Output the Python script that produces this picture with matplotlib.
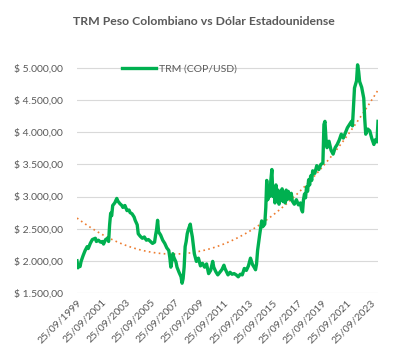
import matplotlib
matplotlib.use("Agg")
import matplotlib.pyplot as plt
import numpy as np
import pandas as pd

# TRM (COP per USD), one row per year
months = [
    "1999-09", "1999-10", "1999-11", "1999-12",
    "2000-01", "2000-03", "2000-05", "2000-07", "2000-08", "2000-10", "2000-12",
    "2001-03", "2001-04", "2001-06", "2001-08", "2001-10", "2001-11",
    "2002-01", "2002-03", "2002-04", "2002-05", "2002-06", "2002-07", "2002-08", "2002-10", "2002-12",
    "2003-01", "2003-03", "2003-05", "2003-06", "2003-08", "2003-10", "2003-12",
    "2004-01", "2004-03", "2004-05", "2004-06", "2004-08", "2004-09", "2004-11",
    "2005-01", "2005-03", "2005-05", "2005-07", "2005-09", "2005-11",
    "2006-01", "2006-02", "2006-03", "2006-04", "2006-05", "2006-07", "2006-09", "2006-11",
    "2007-01", "2007-03", "2007-04", "2007-05", "2007-06", "2007-07", "2007-08", "2007-10", "2007-11",
    "2008-01", "2008-03", "2008-04", "2008-05", "2008-06", "2008-07", "2008-08", "2008-09", "2008-10", "2008-12",
    "2009-01", "2009-02", "2009-03", "2009-04", "2009-05", "2009-06", "2009-08", "2009-10", "2009-12",
    "2010-02", "2010-04", "2010-06", "2010-08", "2010-10", "2010-11",
    "2011-01", "2011-03", "2011-05", "2011-07", "2011-09", "2011-10",
    "2012-01", "2012-03", "2012-05", "2012-07", "2012-09", "2012-11",
    "2013-01", "2013-03", "2013-05", "2013-07", "2013-09", "2013-11",
    "2014-01", "2014-03", "2014-04", "2014-05", "2014-06", "2014-08", "2014-10", "2014-11",
    "2015-01", "2015-02", "2015-03", "2015-04", "2015-05", "2015-06", "2015-07", "2015-08", "2015-09", "2015-10", "2015-11", "2015-12",
    "2016-01", "2016-02", "2016-03", "2016-04", "2016-05", "2016-06", "2016-07", "2016-08", "2016-09", "2016-10", "2016-11", "2016-12",
    "2017-02", "2017-03", "2017-04", "2017-06", "2017-08", "2017-10", "2017-12",
    "2018-01", "2018-02", "2018-03", "2018-04", "2018-05", "2018-06", "2018-07", "2018-08", "2018-09", "2018-10", "2018-11", "2018-12",
    "2019-02", "2019-04", "2019-06", "2019-08", "2019-10", "2019-11", "2019-12",
    "2020-01", "2020-02", "2020-04", "2020-06", "2020-08", "2020-10", "2020-12",
    "2021-02", "2021-04", "2021-06", "2021-08", "2021-10", "2021-12",
    "2022-02", "2022-03", "2022-05", "2022-07", "2022-08", "2022-09", "2022-10", "2022-12",
    "2023-02", "2023-03", "2023-04", "2023-06", "2023-08", "2023-10", "2023-12",
    "2024-01", "2024-03", "2024-04",
]
trm = [
    2000, 1890, 1940, 1910,
    1990, 2080, 2160, 2220, 2190, 2270, 2330,
    2350, 2300, 2320, 2290, 2300, 2260,
    2330, 2350, 2300, 2560, 2740, 2700, 2860, 2900, 2970,
    2930, 2890, 2860, 2830, 2860, 2780, 2790,
    2750, 2730, 2680, 2630, 2560, 2420, 2380,
    2350, 2370, 2320, 2330, 2300, 2270,
    2290, 2400, 2480, 2630, 2450, 2400, 2320, 2270,
    2200, 2160, 2050, 1900, 2000, 2110, 2050, 1980, 1900,
    1820, 1750, 1650, 1720, 1900, 2220, 2300, 2420, 2480, 2570,
    2460, 2370, 2250, 2110, 2050, 1990, 2040, 1920, 1960,
    1900, 1950, 1800, 1850, 1990, 1900,
    1830, 1780, 1820, 1860, 1930, 1880,
    1780, 1820, 1790, 1800, 1780, 1750,
    1790, 1780, 1880, 1850, 1920, 2040,
    1940, 1890, 1860, 1950, 2160, 2400, 2620, 2530,
    2570, 2830, 3250, 2950, 3100, 3000, 3250, 3420, 3000, 3150, 2900, 3180,
    2950, 3100, 2880, 3050, 2950, 3120, 2920, 3050, 2900, 3100, 2950, 3080,
    2960, 3050, 2930, 2880, 2950, 2870, 2900,
    2800, 2760, 2950, 3040, 2980, 3150, 3080, 3260, 3180, 3320, 3250, 3400,
    3360, 3480, 3420, 3500, 3520, 4120, 4170,
    3900, 3760, 3860, 3720, 3660, 3760, 3810,
    3880, 3970, 3910, 3990, 4070, 4120,
    4170, 4100, 4690, 4800, 5050, 4950, 4790, 4700,
    4530, 4220, 3970, 4050, 4020, 3900, 3810,
    3880, 3850, 4170,
]
dates = pd.to_datetime([m + "-25" for m in months])

tick_years = list(range(1999, 2024, 2))
tick_dates = [pd.Timestamp(f"{y}-09-25") for y in tick_years]
tick_labels = [f"25/09/{y}" for y in tick_years]
y_ticks = [1500, 2000, 2500, 3000, 3500, 4000, 4500, 5000]

grey = "#595959"
plt.rcParams["font.family"] = ["Lato", "DejaVu Sans"]

fig = plt.figure(figsize=(4, 3.52), dpi=100)
ax = fig.add_axes([0.1925, 0.168, 0.7525, 0.657])

ax.plot(dates, trm, color="#00B050", linewidth=2.4, label="TRM (COP/USD)", zorder=3)

# polynomial trend line (like excel's)
t = (dates - dates[0]).days.values / 365.25
coef = np.polyfit(t, trm, 2)
ax.plot(dates, np.polyval(coef, t), color="#ED7D31", linestyle=(0, (1, 2)), linewidth=1.2, zorder=2)

ax.set_ylim(1500, 5100)
ax.set_yticks(y_ticks)
ax.set_yticklabels([f"$ {v:,.2f}".replace(",", "X").replace(".", ",").replace("X", ".") for v in y_ticks])
ax.set_xlim(dates[0], dates[-1])
ax.set_xticks(tick_dates)
ax.set_xticklabels(tick_labels, rotation=45, ha="right", rotation_mode="anchor")

ax.grid(axis="y", color="#D9D9D9", linewidth=0.8)
ax.set_axisbelow(True)
for s in ax.spines.values():
    s.set_visible(False)
ax.tick_params(axis="both", length=0, colors=grey, labelsize=7.5)
ax.tick_params(axis="y", pad=10)

fig.suptitle("TRM Peso Colombiano vs Dólar Estadounidense", x=0.51, y=0.955,
             fontsize=8.8, fontweight="bold", color=grey)
ax.legend(loc="upper left", bbox_to_anchor=(0.12, 1.03), frameon=False, fontsize=7.5,
          labelcolor=grey, handlelength=3.2, handletextpad=0.3)

fig.savefig("out.png", dpi=100, facecolor="white")
